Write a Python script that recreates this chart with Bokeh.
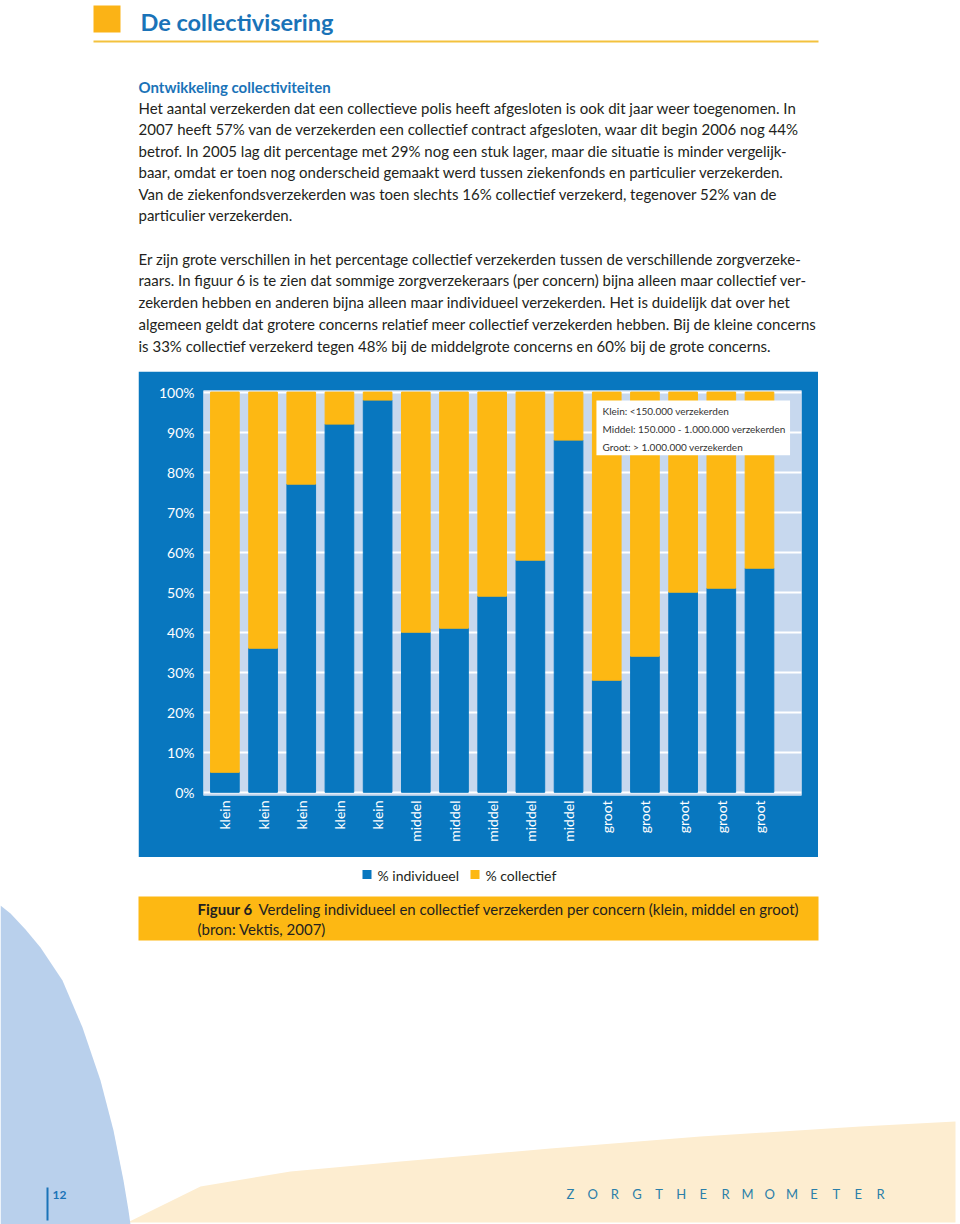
import numpy as np
from bokeh.plotting import figure
from bokeh.layouts import column, row
from bokeh.models import Range1d, FixedTicker, PrintfTickFormatter, Spacer, ColumnDataSource
from bokeh.core.properties import value
from bokeh.embed import file_html
from bokeh.resources import INLINE

# ---------------- data ----------------
groups = ["klein", "klein", "klein", "klein", "klein",
          "middel", "middel", "middel", "middel", "middel",
          "groot", "groot", "groot", "groot", "groot"]
individueel = [5, 36, 77, 92, 98, 40, 41, 49, 58, 88, 28, 34, 50, 51, 56]
collectief = [95, 64, 23, 8, 2, 60, 59, 51, 42, 12, 72, 66, 50, 49, 44]
series = ["% individueel", "% collectief"]
y_ticks = [0, 10, 20, 30, 40, 50, 60, 70, 80, 90, 100]
size_notes = ["Klein: <150.000 verzekerden",
              "Middel: 150.000 - 1.000.000 verzekerden",
              "Groot: > 1.000.000 verzekerden"]

title = "De collectivisering"
heading = "Ontwikkeling collectiviteiten"
para1 = [
    "Het aantal verzekerden dat een collectieve polis heeft afgesloten is ook dit jaar weer toegenomen. In",
    "2007 heeft 57% van de verzekerden een collectief contract afgesloten, waar dit begin 2006 nog 44%",
    "betrof. In 2005 lag dit percentage met 29% nog een stuk lager, maar die situatie is minder vergelijk-",
    "baar, omdat er toen nog onderscheid gemaakt werd tussen ziekenfonds en particulier verzekerden.",
    "Van de ziekenfondsverzekerden was toen slechts 16% collectief verzekerd, tegenover 52% van de",
    "particulier verzekerden.",
]
para2 = [
    "Er zijn grote verschillen in het percentage collectief verzekerden tussen de verschillende zorgverzeke-",
    "raars. In figuur 6 is te zien dat sommige zorgverzekeraars (per concern) bijna alleen maar collectief ver-",
    "zekerden hebben en anderen bijna alleen maar individueel verzekerden. Het is duidelijk dat over het",
    "algemeen geldt dat grotere concerns relatief meer collectief verzekerden hebben. Bij de kleine concerns",
    "is 33% collectief verzekerd tegen 48% bij de middelgrote concerns en 60% bij de grote concerns.",
]
caption_bold = "Figuur 6"
caption_1 = "Verdeling individueel en collectief verzekerden per concern (klein, middel en groot)"
caption_2 = "(bron: Vektis, 2007)"
page_no = "12"
footer = "ZORGTHERMOMETER"

# ---------------- style ----------------
BLUE = "#0877bf"
YELLOW = "#fdb813"
LIGHT = "#c7d8ee"
TXT = "#231f20"
TITLE_BLUE = "#1a73b8"
FONT = "Lato"


def blank(width, height, x0, x1, y0, y1):
    f = figure(width=width, height=height, x_range=Range1d(x0, x1), y_range=Range1d(y0, y1),
               output_backend="svg", toolbar_location=None,
               x_axis_location=None, y_axis_location=None, min_border=0)
    f.grid.visible = False
    f.outline_line_color = None
    f.background_fill_color = "white"
    f.border_fill_color = "white"
    return f


# ---------------- top (page text) ----------------
top = blank(960, 371, 0, 960, 371, 0)
top.quad(left=93, right=120, top=5, bottom=32, fill_color="#fbb316", line_color=None)
top.text(x=[140], y=[21], text=[title], text_font=value(FONT), text_font_style="bold",
         text_font_size="23.5px", text_color=TITLE_BLUE, text_baseline="middle")
top.segment(x0=[93], y0=[41], x1=[818], y1=[41], line_color="#f3c23e", line_width=2)
top.text(x=[138], y=[86], text=[heading], text_font=value(FONT), text_font_style="bold",
         text_font_size="15px", text_color=TITLE_BLUE, text_baseline="middle")
y1 = [107 + 21.5 * i for i in range(len(para1))]
top.text(x=[138] * len(para1), y=y1, text=para1, text_font=value(FONT),
         text_font_size="15px", text_color=TXT, text_baseline="middle")
y2 = [258 + 21.75 * i for i in range(len(para2))]
top.text(x=[138] * len(para2), y=y2, text=para2, text_font=value(FONT),
         text_font_size="15px", text_color=TXT, text_baseline="middle")

# ---------------- chart ----------------
xs = list(range(len(groups)))
src = ColumnDataSource(dict(x=xs, ind=individueel, col=collectief))
p = figure(width=680, height=486, x_range=Range1d(-0.56, 15.1), y_range=Range1d(-0.8, 100.4),
           output_backend="svg", toolbar_location=None,
           min_border_left=65, min_border_right=17, min_border_top=19, min_border_bottom=62)
p.background_fill_color = LIGHT
p.border_fill_color = BLUE
p.outline_line_color = None
p.vbar_stack(["ind", "col"], x="x", width=0.75, color=[BLUE, YELLOW], source=src)

p.xgrid.visible = False
p.ygrid.ticker = FixedTicker(ticks=y_ticks)
p.ygrid.grid_line_color = "white"
p.ygrid.grid_line_width = 2

p.yaxis.ticker = FixedTicker(ticks=y_ticks)
p.yaxis.formatter = PrintfTickFormatter(format="%d%%")
p.xaxis.ticker = FixedTicker(ticks=xs)
p.xaxis.major_label_overrides = {i: g for i, g in enumerate(groups)}
p.xaxis.major_label_orientation = np.pi / 2
for ax in (p.xaxis, p.yaxis):
    ax.axis_line_color = None
    ax.major_tick_line_color = None
    ax.minor_tick_line_color = None
    ax.major_tick_in = 0
    ax.major_tick_out = 0
    ax.major_label_text_color = "white"
    ax.major_label_text_font = FONT
    ax.major_label_text_font_size = "14px"
p.yaxis.major_label_standoff = 9
p.xaxis.major_label_standoff = 5

# note box (size classes)
p.quad(left=9.73, right=14.8, top=97.9, bottom=84.2, fill_color="white", line_color=None)
p.text(x=[9.89] * 3, y=[95.2, 90.7, 86.4], text=size_notes, text_font=value(FONT),
       text_font_size="10px", text_color="#333333", text_baseline="middle")

# ---------------- bottom ----------------
bot = blank(960, 367, 0, 960, 1224, 857)
# decorative shapes
bot.patch(x=[127, 200, 290, 400, 550, 700, 860, 955, 955, 127],
          y=[1222, 1186, 1171, 1161, 1148, 1136, 1126, 1121, 1222, 1222],
          fill_color="#fdedd0", line_color=None)
bot.patch(x=[0, 10, 25, 40, 62, 82, 100, 113, 123, 128, 130, 0],
          y=[905, 913, 929, 947, 980, 1027, 1080, 1130, 1180, 1210, 1224, 1224],
          fill_color="#b9d0ec", line_color=None)

# legend
leg_x = [362, 470]
bot.quad(left=leg_x, right=[x + 9 for x in leg_x], top=[869.5, 869.5], bottom=[878.5, 878.5],
         fill_color=[BLUE, YELLOW], line_color=None)
bot.text(x=[x + 15 for x in leg_x], y=[874.5, 874.5], text=series, text_font=value(FONT),
         text_font_size="14px", text_color=TXT, text_baseline="middle")

# caption band
bot.quad(left=138, right=818, top=896, bottom=940, fill_color=YELLOW, line_color=None)
bot.text(x=[197], y=[908], text=[caption_bold], text_font=value(FONT), text_font_style="bold",
         text_font_size="15px", text_color=TXT, text_baseline="middle")
bot.text(x=[258], y=[908], text=[caption_1], text_font=value(FONT),
         text_font_size="15px", text_color=TXT, text_baseline="middle")
bot.text(x=[197], y=[928], text=[caption_2], text_font=value(FONT),
         text_font_size="15px", text_color=TXT, text_baseline="middle")

# footer
bot.segment(x0=[47], y0=[1187], x1=[47], y1=[1220], line_color=TITLE_BLUE, line_width=2)
bot.text(x=[52], y=[1194], text=[page_no], text_font=value(FONT), text_font_style="bold",
         text_font_size="12px", text_color=TITLE_BLUE, text_baseline="middle")
letters = list(footer)
lx = np.linspace(570, 880, len(letters))
bot.text(x=lx, y=[1193] * len(letters), text=letters, text_font=value(FONT),
         text_font_size="13px", text_color="#2b7fa9", text_baseline="middle", text_align="center")

layout = column(top, row(Spacer(width=138, height=486), p), bot)
open("out.html", "w").write(file_html(layout, INLINE))
